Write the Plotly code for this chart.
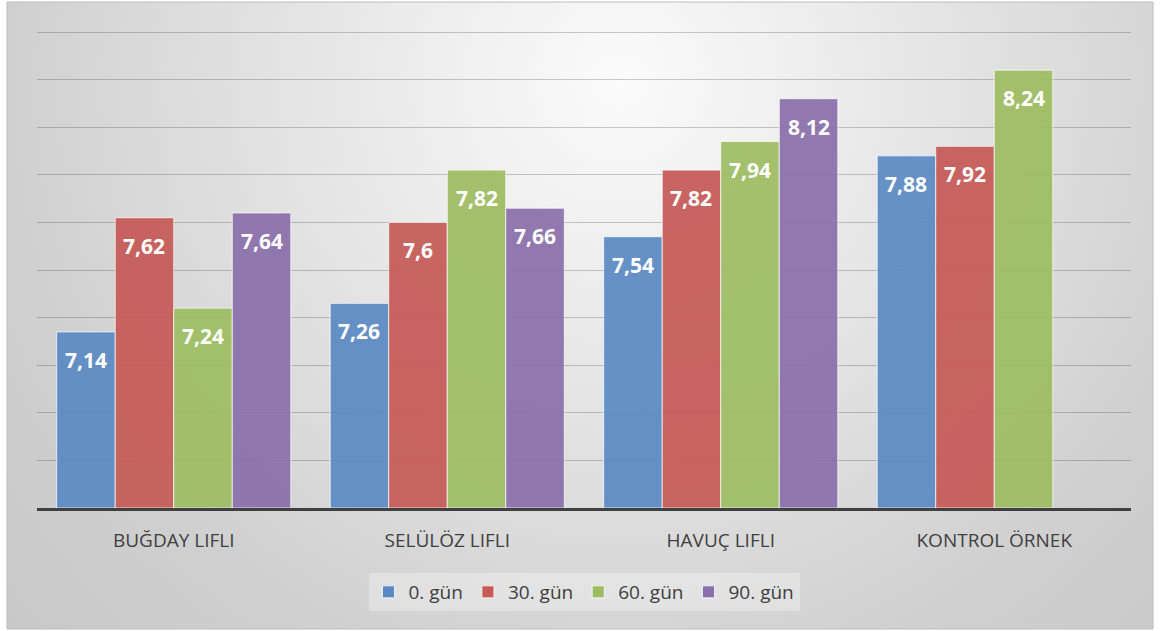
import base64

import plotly.graph_objects as go

categories = ["BUĞDAY LIFLI", "SELÜLÖZ LIFLI", "HAVUÇ LIFLI", "KONTROL ÖRNEK"]
series_names = ["0. gün", "30. gün", "60. gün", "90. gün"]
gun_0 = [7.14, 7.26, 7.54, 7.88]
gun_30 = [7.62, 7.6, 7.82, 7.92]
gun_60 = [7.24, 7.82, 7.94, 8.24]
gun_90 = [7.64, 7.66, 8.12, None]
y_ticks = [6.4, 6.6, 6.8, 7.0, 7.2, 7.4, 7.6, 7.8, 8.0, 8.2, 8.4]

series_values = [gun_0, gun_30, gun_60, gun_90]
colors = ["#5A8AC4", "#C55A56", "#9EBD62", "#8A6FAA"]

BARGAP = 0.144
FONT = "Open Sans"

# background: soft radial gradient like the office chart area
svg = (
    "<svg xmlns='http://www.w3.org/2000/svg' width='1146' height='627' "
    "viewBox='0 0 1146 627' preserveAspectRatio='none'>"
    "<defs><radialGradient id='g' gradientUnits='userSpaceOnUse' "
    "cx='613' cy='78' r='820'>"
    "<stop offset='0' stop-color='#fbfbfb'/>"
    "<stop offset='0.75' stop-color='#d0d0d0'/>"
    "<stop offset='1' stop-color='#c8c8c8'/>"
    "</radialGradient></defs>"
    "<rect width='1146' height='627' fill='url(#g)'/></svg>"
)
bg_src = "data:image/svg+xml;base64," + base64.b64encode(svg.encode()).decode()

# plot area in pixels: left 37, right 1131, bottom 508, top 29
PW, PH = 1094, 479

fig = go.Figure()

for name, vals, color in zip(series_names, series_values, colors):
    fig.add_bar(
        name=name,
        x=categories,
        y=[v - y_ticks[0] if v is not None else None for v in vals],
        base=y_ticks[0],
        marker=dict(
            color=color,
            opacity=0.92,
            line=dict(color="rgba(255,255,255,0.75)", width=1),
        ),
    )

# value labels inside the top of each bar
slot = (1 - BARGAP) / len(series_names)
for j, vals in enumerate(series_values):
    for i, v in enumerate(vals):
        if v is None:
            continue
        fig.add_annotation(
            x=i + (j - (len(series_names) - 1) / 2) * slot,
            y=v,
            xref="x",
            yref="y",
            text=("%g" % v).replace(".", ","),
            showarrow=False,
            yanchor="middle",
            yshift=-28,
            font=dict(family=FONT, size=21, color="white", weight="bold"),
        )

fig.add_layout_image(
    dict(
        source=bg_src,
        xref="paper",
        yref="paper",
        x=-30 / PW,
        y=506 / PH,
        sizex=1146 / PW,
        sizey=627 / PH,
        xanchor="left",
        yanchor="top",
        sizing="stretch",
        layer="below",
    )
)
fig.add_shape(
    type="rect",
    xref="paper",
    yref="paper",
    x0=-30 / PW,
    x1=1116 / PW,
    y0=-121 / PH,
    y1=506 / PH,
    line=dict(color="#bdbdbd", width=1),
    layer="below",
)

fig.update_layout(
    width=1160,
    height=631,
    margin=dict(l=37, r=29, t=29, b=123),
    barmode="group",
    bargap=BARGAP,
    bargroupgap=0,
    paper_bgcolor="white",
    plot_bgcolor="rgba(0,0,0,0)",
    font=dict(family=FONT, color="#404040"),
    showlegend=True,
    legend=dict(
        orientation="h",
        x=0.5,
        xanchor="center",
        y=-84 / PH,
        yanchor="middle",
        bgcolor="rgba(255,255,255,0.3)",
        font=dict(family=FONT, size=19, color="#404040"),
        itemwidth=30,
    ),
)
fig.update_xaxes(
    showline=True,
    linecolor="#404040",
    linewidth=3,
    ticks="",
    ticklabelstandoff=13,
    tickfont=dict(family=FONT, size=19, color="#404040"),
    showgrid=False,
)
fig.update_yaxes(
    range=[y_ticks[0], y_ticks[-1] + 0.013],
    tickvals=y_ticks,
    showticklabels=False,
    showgrid=True,
    gridcolor="rgba(0,0,0,0.2)",
    gridwidth=1,
    zeroline=False,
    showline=False,
)

fig.write_html(
    "out.html",
    config={"displayModeBar": False},
    post_script="document.body.style.margin='0';",
)
